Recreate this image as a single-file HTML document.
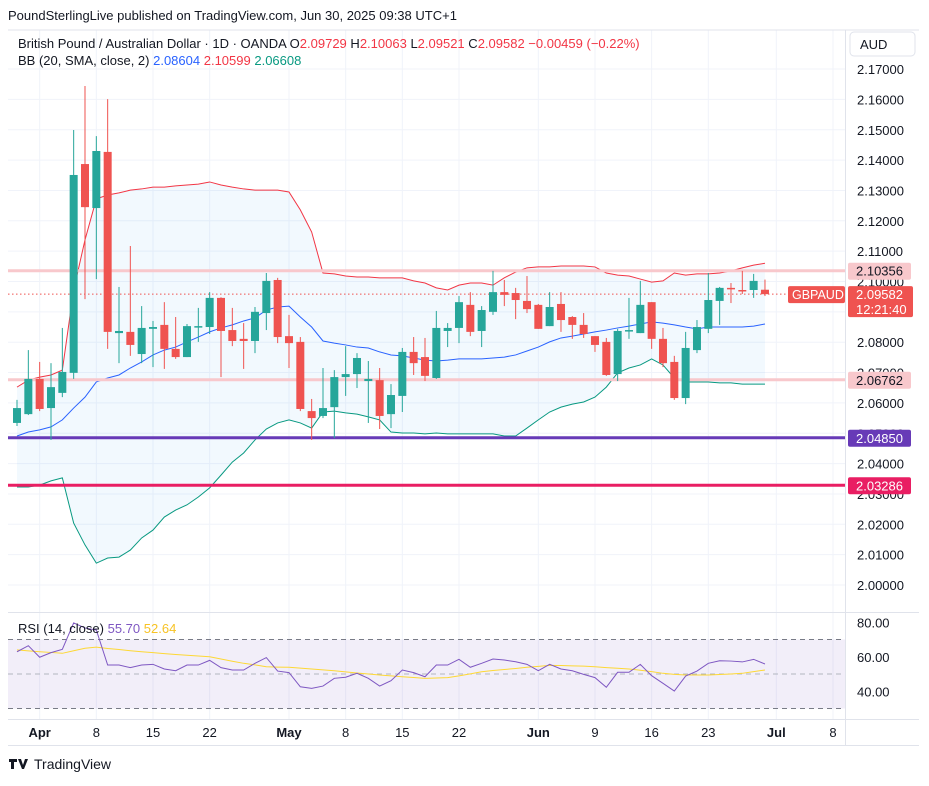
<!DOCTYPE html>
<html><head><meta charset="utf-8"><style>
body{margin:0;background:#fff;font-family:"Liberation Sans",sans-serif;}
svg text{font-family:"Liberation Sans",sans-serif;}
</style></head><body>
<svg id="c" width="929" height="781" viewBox="0 0 929 781" xmlns="http://www.w3.org/2000/svg">
<rect width="929" height="781" fill="#fff"/>
<text x="8" y="20" font-size="13" fill="#131722">PoundSterlingLive published on TradingView.com, Jun 30, 2025 09:38 UTC+1</text>
<g id="grid"></g>
<g id="bands"></g>
<g id="levels"></g>
<g id="candles"></g>
<g id="rsi"></g>
<g id="axis"></g>
<g id="xaxis"></g>
<line x1="8" y1="30" x2="919" y2="30" stroke="#e0e3eb"/>
<line x1="845.5" y1="30" x2="845.5" y2="745" stroke="#e0e3eb"/>
<line x1="8" y1="612.5" x2="919" y2="612.5" stroke="#e0e3eb"/>
<line x1="8" y1="719.5" x2="919" y2="719.5" stroke="#e0e3eb"/>
<line x1="8" y1="745.5" x2="919" y2="745.5" stroke="#e0e3eb"/>
<g font-size="13">
<text x="18" y="48" fill="#131722">British Pound / Australian Dollar · 1D · OANDA  <tspan>O</tspan><tspan fill="#f23645">2.09729</tspan>  <tspan>H</tspan><tspan fill="#f23645">2.10063</tspan>  <tspan>L</tspan><tspan fill="#f23645">2.09521</tspan>  <tspan>C</tspan><tspan fill="#f23645">2.09582  −0.00459 (−0.22%)</tspan></text>
<text x="18" y="65" fill="#131722">BB (20, SMA, close, 2) <tspan fill="#2962ff">2.08604</tspan> <tspan fill="#f23645">2.10599</tspan> <tspan fill="#089981">2.06608</tspan></text>
<text x="18" y="633" fill="#131722">RSI (14, close) <tspan fill="#7e57c2">55.70</tspan> <tspan fill="#f7c325">52.64</tspan></text>
</g>
<rect x="850" y="32" width="65" height="24" rx="4" fill="#fff" stroke="#e0e3eb"/>
<text x="860" y="49" font-size="13" fill="#131722">AUD</text>
<g>
<path d="M9 759h8v3h-3v7h-3v-7h-2z M18 759h3l2 6 2-6h3l-4 10h-2z" fill="#131722"/>
<text x="34" y="769" font-size="14" fill="#131722">TradingView</text>
</g>
</svg>
<script>
const dates=["Mar28","Mar31","Apr1","Apr2","Apr3","Apr4","Apr7","Apr8","Apr9","Apr10","Apr11","Apr14","Apr15","Apr16","Apr17","Apr18","Apr21","Apr22","Apr23","Apr24","Apr25","Apr28","Apr29","Apr30","May1","May2","May5","May6","May7","May8","May9","May12","May13","May14","May15","May16","May19","May20","May21","May22","May23","May26","May27","May28","May29","May30","Jun2","Jun3","Jun4","Jun5","Jun6","Jun9","Jun10","Jun11","Jun12","Jun13","Jun16","Jun17","Jun18","Jun19","Jun20","Jun23","Jun24","Jun25","Jun26","Jun27","Jun30"];
const opens=[2.0534,2.0563,2.0679,2.0583,2.0633,2.0699,2.1387,2.1242,2.1427,2.0830,2.0834,2.0761,2.0844,2.0857,2.0778,2.0751,2.0849,2.0850,2.0946,2.0840,2.0811,2.0804,2.0896,2.1005,2.0820,2.0801,2.0573,2.0557,2.0586,2.0685,2.0695,2.0672,2.0675,2.0563,2.0623,2.0768,2.0751,2.0682,2.0837,2.0847,2.0923,2.0837,2.0900,2.0965,2.0962,2.0936,2.0923,2.0853,2.0926,2.0883,2.0857,2.0820,2.0801,2.0695,2.0837,2.0830,2.0932,2.0811,2.0735,2.0616,2.0774,2.0844,2.0936,2.0979,2.0972,2.0972,2.09729];
const highs=[2.0610,2.0774,2.0735,2.0731,2.0847,2.1499,2.1644,2.1479,2.1601,2.0982,2.1117,2.0919,2.0870,2.0932,2.0883,2.0860,2.0913,2.0965,2.0948,2.0913,2.0863,2.0916,2.1028,2.1012,2.0890,2.0817,2.0613,2.0715,2.0708,2.0787,2.0764,2.0738,2.0715,2.0662,2.0781,2.0817,2.0814,2.0903,2.0863,2.0952,2.0965,2.0919,2.1035,2.1005,2.0979,2.1018,2.0926,2.0965,2.0965,2.0886,2.0896,2.0820,2.0814,2.0844,2.0946,2.1002,2.0932,2.0847,2.0755,2.0834,2.0873,2.1028,2.0982,2.0995,2.1035,2.1025,2.10063];
const lows=[2.0524,2.0560,2.0573,2.0478,2.0619,2.0679,2.0942,2.1008,2.0778,2.0731,2.0755,2.0731,2.0718,2.0712,2.0745,2.0751,2.0801,2.0827,2.0685,2.0787,2.0712,2.0764,2.0840,2.0797,2.0715,2.0573,2.0478,2.0550,2.0484,2.0623,2.0649,2.0534,2.0514,2.0517,2.0570,2.0692,2.0672,2.0679,2.0784,2.0797,2.0820,2.0784,2.0890,2.0919,2.0876,2.0896,2.0844,2.0853,2.0834,2.0811,2.0814,2.0768,2.0689,2.0672,2.0811,2.0830,2.0778,2.0718,2.0610,2.0596,2.0764,2.0830,2.0857,2.0929,2.0959,2.0946,2.09521];
const closes=[2.0583,2.0679,2.0580,2.0652,2.0702,2.1351,2.1245,2.1430,2.0834,2.0837,2.0791,2.0847,2.0850,2.0778,2.0751,2.0853,2.0853,2.0946,2.0837,2.0804,2.0804,2.0900,2.1002,2.0817,2.0797,2.0580,2.0550,2.0583,2.0685,2.0695,2.0748,2.0679,2.0557,2.0626,2.0768,2.0731,2.0689,2.0847,2.0847,2.0932,2.0834,2.0906,2.0965,2.0956,2.0939,2.0909,2.0844,2.0916,2.0873,2.0857,2.0827,2.0791,2.0692,2.0837,2.0840,2.0923,2.0811,2.0731,2.0616,2.0781,2.0850,2.0939,2.0979,2.0975,2.0969,2.1002,2.09582];
const bbUpper=[2.0652,2.0675,2.0685,2.0692,2.0708,2.0972,2.1137,2.1272,2.1285,2.1292,2.1301,2.1305,2.1311,2.1311,2.1315,2.1318,2.1321,2.1328,2.1318,2.1311,2.1305,2.1301,2.1301,2.1301,2.1295,2.1236,2.1163,2.1028,2.1025,2.1018,2.1015,2.1015,2.1012,2.1012,2.1012,2.1002,2.0995,2.0979,2.0972,2.0988,2.0995,2.0995,2.0988,2.1012,2.1031,2.1045,2.1048,2.1048,2.1051,2.1051,2.1051,2.1048,2.1028,2.1021,2.1018,2.1008,2.0998,2.1002,2.1028,2.1021,2.1025,2.1025,2.1028,2.1035,2.1045,2.1054,2.1060];
const bbMiddle=[2.0491,2.0504,2.0511,2.0521,2.0544,2.0583,2.0619,2.0669,2.0682,2.0692,2.0715,2.0735,2.0758,2.0774,2.0784,2.0801,2.0817,2.0834,2.0847,2.0857,2.0870,2.0880,2.0906,2.0916,2.0919,2.0883,2.0850,2.0804,2.0797,2.0791,2.0784,2.0781,2.0768,2.0758,2.0755,2.0748,2.0741,2.0738,2.0741,2.0745,2.0745,2.0745,2.0748,2.0751,2.0758,2.0771,2.0784,2.0801,2.0814,2.0820,2.0827,2.0834,2.0840,2.0847,2.0853,2.0860,2.0867,2.0863,2.0857,2.0850,2.0844,2.0850,2.0850,2.0850,2.0850,2.0853,2.0860];
const bbLower=[2.0323,2.0323,2.0329,2.0343,2.0353,2.0204,2.0132,2.0072,2.0089,2.0092,2.0115,2.0155,2.0181,2.0224,2.0247,2.0264,2.0290,2.0320,2.0362,2.0405,2.0435,2.0478,2.0514,2.0534,2.0544,2.0534,2.0517,2.0570,2.0573,2.0567,2.0563,2.0554,2.0544,2.0504,2.0501,2.0501,2.0498,2.0501,2.0498,2.0498,2.0498,2.0498,2.0498,2.0491,2.0491,2.0517,2.0544,2.0570,2.0586,2.0596,2.0603,2.0619,2.0652,2.0699,2.0715,2.0725,2.0745,2.0725,2.0682,2.0669,2.0669,2.0669,2.0666,2.0666,2.0662,2.0662,2.0662];
const rsiValues=[62.9,66.4,59.7,62.4,64.3,79.6,76.7,75.5,55.2,55.2,53.7,55.2,55.6,52.9,51.9,55.2,55.2,57.9,53.7,52.3,52.3,56.2,59.5,51.7,50.8,42.6,41.7,43.0,47.5,48.1,50.4,47.5,43.0,46.1,52.3,50.8,48.4,55.2,55.2,58.5,53.9,56.2,58.7,58.1,57.1,55.6,51.9,55.6,52.9,51.9,49.8,47.9,42.3,51.0,51.0,55.6,49.0,44.6,40.1,48.8,51.7,56.2,57.7,57.5,57.0,58.5,55.8];
const rsiMA=[64.0,63.4,62.9,62.5,62.0,63.5,64.9,65.6,64.8,64.2,63.5,62.9,62.4,61.8,61.3,60.9,60.4,60.0,58.7,57.4,56.2,55.3,54.2,54.0,53.9,53.4,52.9,52.4,51.9,51.2,50.6,50.0,49.4,48.9,48.4,48.0,47.5,47.7,47.9,48.9,50.1,51.3,52.0,52.6,53.2,53.9,54.4,55.0,54.9,54.7,54.6,54.2,53.7,53.3,52.9,52.2,51.4,50.4,49.8,49.4,49.4,49.4,49.7,50.0,50.4,51.4,52.3];
const priceTicks=[2.17,2.16,2.15,2.14,2.13,2.12,2.11,2.10,2.09,2.08,2.07,2.06,2.05,2.04,2.03,2.02,2.01,2.00];
const rsiTicks=[80,60,40];
const levelValues=[2.10356,2.06762,2.04850,2.03286];
const timeLabels=["Apr","8","15","22","May","8","15","22","Jun","9","16","23","Jul","8"];
const timeLabelIdx=[2,7,12,17,24,29,34,39,46,51,56,61,67,72];
const lastPrice=2.09582;

const NS="http://www.w3.org/2000/svg";
const X0=17,DX=11.333;
const xI=i=>X0+i*DX;
const yP=p=>585-(p-2)*3035;
const yR=v=>674-(v-50)*1.725;
function mk(tag,attrs,parent,text){const e=document.createElementNS(NS,tag);for(const k in attrs)e.setAttribute(k,attrs[k]);if(text!==undefined)e.textContent=text;parent.appendChild(e);return e;}
const G=id=>document.getElementById(id);

const grid=G('grid');
priceTicks.forEach(p=>{const l=mk('line',{x1:8,x2:845,y1:yP(p),y2:yP(p),stroke:'#f0f3fa'},grid);

});
timeLabelIdx.forEach(i=>{const l=mk('line',{x1:xI(i),x2:xI(i),y1:30,y2:719,stroke:'#f0f3fa'},grid);

});

const bands=G('bands');
const up=bbUpper.map((v,i)=>xI(i)+','+yP(v));
const lo=bbLower.map((v,i)=>xI(i)+','+yP(v));
const fill=mk('polygon',{points:up.concat(lo.slice().reverse()).join(' '),fill:'rgba(33,150,243,0.06)'},bands);


[[bbUpper,'#f23645','upper-band'],[bbMiddle,'#2962ff','middle-band'],[bbLower,'#089981','lower-band']].forEach(([arr,col,nm])=>{
const pl=mk('polyline',{points:arr.map((v,i)=>xI(i)+','+yP(v)).join(' '),fill:'none',stroke:col,'stroke-width':1},bands);

});

const lv=G('levels');
const lvCols=['#f8c8cc','#f8c8cc','#673ab7','#e91e63'];
const lvText=['#131722','#131722','#fff','#fff'];
const lvNames=['resistance-line','support-line','purple-level-line','red-level-line'];
const ax=G('axis');
levelValues.forEach((v,k)=>{const l=mk('line',{x1:8,x2:845,y1:yP(v),y2:yP(v),stroke:lvCols[k],'stroke-width':3},lv);

});
const dl=mk('line',{x1:8,x2:790,y1:yP(lastPrice),y2:yP(lastPrice),stroke:'#ef5350','stroke-dasharray':'1.5 2.5'},lv);



const cg=G('candles');
closes.forEach((c,i)=>{const o=opens[i],x=xI(i),col=c>=o?'#26a69a':'#ef5350';
const g=mk('g',{},cg);


mk('line',{x1:x,x2:x,y1:yP(highs[i]),y2:yP(lows[i]),stroke:col,'stroke-width':1},g);
const t=Math.min(yP(o),yP(c)),h=Math.max(1.5,Math.abs(yP(o)-yP(c)));
mk('rect',{x:x-4,y:t,width:8,height:h,fill:col},g);});

const rg=G('rsi');
const bgr=mk('rect',{x:8,y:yR(70),width:837,height:yR(30)-yR(70),fill:'rgba(126,87,194,0.1)'},rg);


[70,50,30].forEach(v=>{const l=mk('line',{x1:8,x2:845,y1:yR(v),y2:yR(v),stroke:v==50?'#b2b5be':'#787b86','stroke-dasharray':'5 4'},rg);

});
const ml=mk('polyline',{points:rsiMA.map((v,i)=>xI(i)+','+yR(v)).join(' '),fill:'none',stroke:'#fdd835','stroke-width':1},rg);


const rl=mk('polyline',{points:rsiValues.map((v,i)=>xI(i)+','+yR(v)).join(' '),fill:'none',stroke:'#7e57c2','stroke-width':1},rg);


rsiTicks.forEach(v=>{const t=mk('text',{x:857,y:yR(v)+5,'font-size':13,fill:'#131722'},ax,v.toFixed(2));

});

priceTicks.forEach(p=>{const t=mk('text',{x:857,y:yP(p)+5,'font-size':13,fill:'#131722'},ax,p.toFixed(5));

});
levelValues.forEach((v,k)=>{const y=yP(v);
const r=mk('rect',{x:848,y:y-8,width:63,height:17,rx:2,fill:lvCols[k]},ax);


const t=mk('text',{x:856,y:y+5,'font-size':13,fill:lvText[k]},ax,v.toFixed(5));

});
const ly=yP(lastPrice);
const sb=mk('rect',{x:788,y:ly-8,width:57,height:17,rx:2,fill:'#ef5350'},ax);


const st=mk('text',{x:792,y:ly+5,'font-size':12.5,fill:'#fff'},ax,'GBPAUD');


const pb=mk('rect',{x:848,y:ly-8,width:65,height:31,rx:2,fill:'#ef5350'},ax);


const pt=mk('text',{x:856,y:ly+5,'font-size':13,fill:'#fff'},ax,lastPrice.toFixed(5));


const ct=mk('text',{x:856,y:ly+20,'font-size':13,fill:'#fff'},ax,'12:21:40');



const xa=G('xaxis');
timeLabels.forEach((s,k)=>{const t=mk('text',{x:xI(timeLabelIdx[k]),y:737,'font-size':13,fill:'#131722','text-anchor':'middle','font-weight':(['Apr','May','Jun','Jul'].includes(s)?'bold':'normal')},xa,s);

});
</script>
</body></html>
